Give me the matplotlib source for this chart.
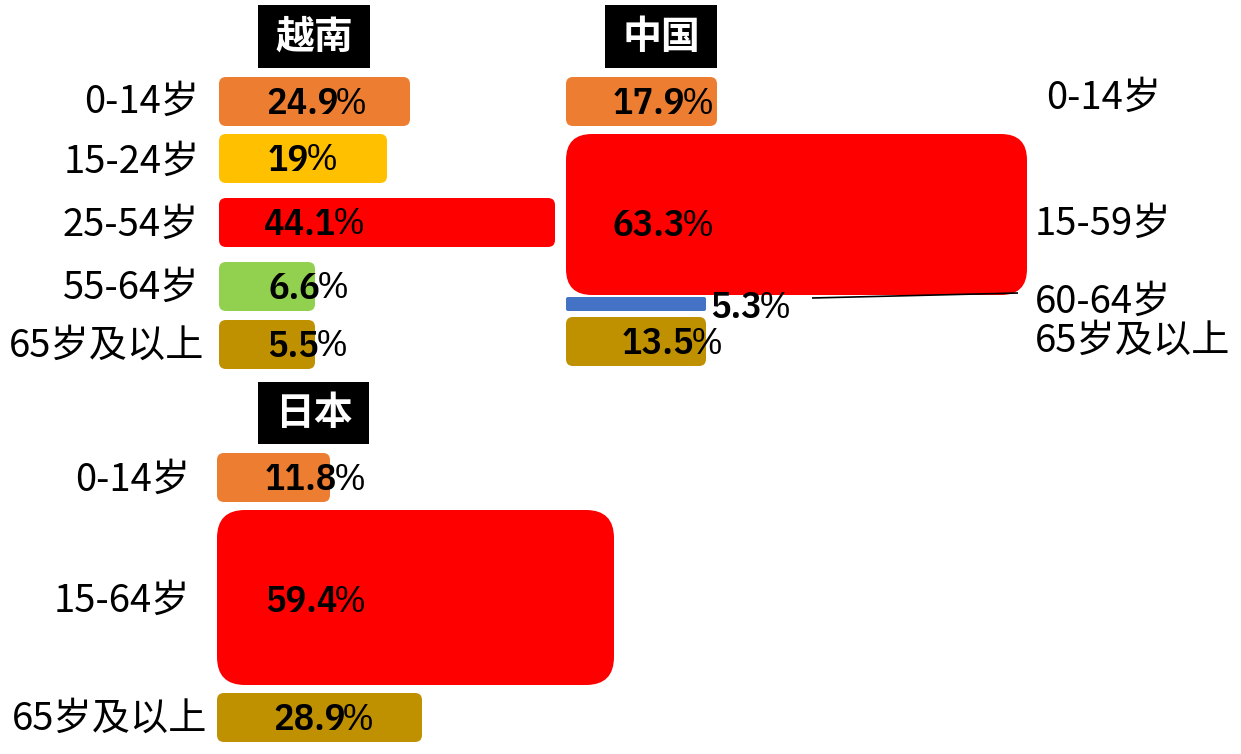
import matplotlib
matplotlib.use("Agg")
import matplotlib.pyplot as plt
from matplotlib.patches import FancyBboxPatch, Rectangle
import logging
logging.getLogger('matplotlib.font_manager').setLevel(logging.ERROR)

plt.rcParams['font.family'] = ['Noto Sans CJK SC', 'DejaVu Sans']

# ---------------- data ----------------
vn_title = '越南'
vn_labels = ['0-14岁', '15-24岁', '25-54岁', '55-64岁', '65岁及以上']
vn_values = ['24.9', '19', '44.1', '6.6', '5.5']
vn_len = [191, 168, 336, 96, 96]          # drawn bar lengths

cn_title = '中国'
cn_labels = ['0-14岁', '15-59岁', '60-64岁', '65岁及以上']
cn_values = ['17.9', '63.3', '5.3', '13.5']
cn_len = [151, 461, 140, 140]

jp_title = '日本'
jp_labels = ['0-14岁', '15-64岁', '65岁及以上']
jp_values = ['11.8', '59.4', '28.9']
jp_len = [113, 397, 205]

# ---------------- styles ----------------
ORANGE, YELLOW, RED, GREEN, GOLD, BLUE = '#ED7D31', '#FFC000', '#FF0000', '#92D050', '#BF9000', '#4472C4'
vn_colors = [ORANGE, YELLOW, RED, GREEN, GOLD]
cn_colors = [ORANGE, RED, BLUE, GOLD]
jp_colors = [ORANGE, RED, GOLD]

W, H = 1241, 754
fig = plt.figure(figsize=(W / 100, H / 100), dpi=100)
ax = fig.add_axes([0, 0, 1, 1])
ax.set_xlim(0, W)
ax.set_ylim(H, 0)
ax.axis('off')

NUM_FONT = ['IBM Plex Sans Condensed', 'Liberation Sans']
LAB_FONT = ['Noto Sans CJK SC', 'DejaVu Sans']
LAB_SIZE = 27.5
NUM_SIZE = 27.5


def title_box(x, y, w, h, text):
    ax.add_patch(Rectangle((x, y), w, h, facecolor='black', edgecolor='none'))
    ax.text(x + w / 2, y + h / 2 + 1, text, color='white', fontsize=28, fontweight='bold',
            family=LAB_FONT, ha='center', va='center')


def value_label(x, y, val):
    t = ax.text(x, y, val, fontsize=NUM_SIZE, fontweight=600, family=NUM_FONT,
                ha='left', va='center', color='black')
    ax.annotate('%', xy=(1, 0.5), xycoords=t, xytext=(-2.5, 0), textcoords='offset points',
                va='center', ha='left', fontsize=NUM_SIZE, fontweight=400,
                family=NUM_FONT, color='black')


def panel(x0, rows, lens, colors, values, labels, radii, text_pos, label_side, label_pos):
    for (top, h), L, c, v, lab, r, (dx, dy), (lx, ldy) in zip(
            rows, lens, colors, values, labels, radii, text_pos, label_pos):
        ax.add_patch(FancyBboxPatch((x0, top), L, h,
                                    boxstyle=f'round,pad=0,rounding_size={r}',
                                    facecolor=c, edgecolor='none'))
        cy = top + h / 2
        tx = x0 + L + 4 if dx is None else x0 + dx
        value_label(tx, cy + dy, v)
        ax.text(lx, cy + ldy, lab, fontsize=LAB_SIZE, fontweight=300, family=LAB_FONT,
                ha='right' if label_side == 'left' else 'left', va='center', color='black')


# Vietnam
title_box(258, 5, 112, 63, vn_title)
panel(219, [(77, 49), (134, 49), (198, 49), (262, 49), (320, 49)],
      vn_len, vn_colors, vn_values, vn_labels,
      [7] * 5,
      [(47, 2), (49, 2), (45, 2), (49, 2), (48, 2)],
      'left',
      [(199, 1), (200, 4), (199, 3), (199, 2), (204, 2)])

# China
title_box(605, 5, 112, 63, cn_title)
panel(566, [(77, 49), (134, 161), (297, 14), (317, 49)],
      cn_len, cn_colors, cn_values, cn_labels,
      [7, 26, 2, 7],
      [(47, 2), (47, 11), (None, 4), (56, 2)],
      'right',
      [(1046, -3), (1035, 10), (1035, -2), (1035, 0)])

# leader line for 60-64岁
ax.plot([812, 1018], [298, 293], color='black', lw=1.2, solid_capstyle='butt')

# Japan
title_box(258, 382, 111, 62, jp_title)
panel(217, [(453, 49), (510, 175), (693, 49)],
      jp_len, jp_colors, jp_values, jp_labels,
      [7, 28, 7],
      [(48, 2), (48, 4), (56, 2)],
      'left',
      [(190, 3), (190, 4), (207, 2)])

fig.savefig('out.png', dpi=100)
